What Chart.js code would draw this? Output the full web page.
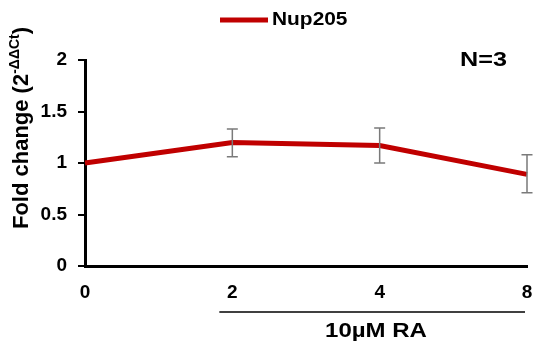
<!DOCTYPE html>
<html>
<head>
<meta charset="utf-8">
<script src="https://cdn.jsdelivr.net/npm/chart.js@4/dist/chart.umd.min.js"></script>
<style>
  html, body { margin: 0; padding: 0; background: #fff; }
  #wrap { width: 536px; height: 349px; }
</style>
</head>
<body>
<div id="wrap"><canvas id="c" width="536" height="349"></canvas></div>
<script>
// data
const timeLabels = ['0', '2', '4', '8'];
const foldChange = [1.0, 1.20, 1.17, 0.89];
const errUpper = [null, 1.33, 1.34, 1.08];
const errLower = [null, 1.06, 1.00, 0.71];
const yTicks = [0, 0.5, 1, 1.5, 2];

const FONT = '"Liberation Sans", Arial, sans-serif';
const RED = '#C00000';

// text drawn a bit wider, like the original figure
function wideText(ctx, txt, x, y, sx) {
    ctx.save();
    ctx.translate(x, y);
    ctx.scale(sx, 1);
    ctx.fillText(txt, 0, 0);
    ctx.restore();
}

// error bars + extra labels
const extras = {
    id: 'extras',
    afterDatasetsDraw(chart) {
        const { ctx, scales: { x, y } } = chart;
        ctx.save();
        ctx.strokeStyle = '#7a7a7a';
        ctx.lineWidth = 1.5;
        foldChange.forEach((v, i) => {
            if (errUpper[i] == null) return;
            const px = x.getPixelForValue(i);
            const top = y.getPixelForValue(errUpper[i]);
            const bot = y.getPixelForValue(errLower[i]);
            ctx.beginPath();
            ctx.moveTo(px, top); ctx.lineTo(px, bot);
            ctx.moveTo(px - 5.5, top); ctx.lineTo(px + 5.5, top);
            ctx.moveTo(px - 5.5, bot); ctx.lineTo(px + 5.5, bot);
            ctx.stroke();
        });
        ctx.restore();
    },
    afterDraw(chart) {
        const { ctx, scales: { x } } = chart;
        ctx.save();
        // legend
        ctx.strokeStyle = RED;
        ctx.lineWidth = 5;
        ctx.beginPath();
        ctx.moveTo(220, 20); ctx.lineTo(268, 20);
        ctx.stroke();
        ctx.fillStyle = '#000';
        ctx.textBaseline = 'middle';
        ctx.textAlign = 'left';
        ctx.font = 'bold 19px ' + FONT;
        wideText(ctx, 'Nup205', 272, 20, 1.1);

        // N=3
        ctx.font = 'bold 21px ' + FONT;
        wideText(ctx, 'N=3', 460, 60, 1.2);

        // treatment bracket
        const x1 = x.getPixelForValue(1) - 13;
        const x2 = x.getPixelForValue(3) - 2;
        ctx.strokeStyle = '#000';
        ctx.lineWidth = 1.5;
        ctx.beginPath();
        ctx.moveTo(x1, 312); ctx.lineTo(x2, 312);
        ctx.stroke();
        ctx.font = 'bold 20px ' + FONT;
        const wRA = ctx.measureText('10\u00b5M RA').width * 1.2;
        wideText(ctx, '10\u00b5M RA', 376 - wRA / 2, 331, 1.2);

        // y title with superscript
        ctx.translate(28, 128);
        ctx.rotate(-Math.PI / 2);
        const main = 'Fold change (2';
        const sup = '-\u0394\u0394Ct';
        const end = ')';
        ctx.font = 'bold 22px ' + FONT;
        const wMain = ctx.measureText(main).width;
        const wEnd = ctx.measureText(end).width;
        ctx.font = 'bold 14px ' + FONT;
        const wSup = ctx.measureText(sup).width;
        const start = -(wMain + wSup + wEnd) / 2;
        ctx.textAlign = 'left';
        ctx.textBaseline = 'alphabetic';
        ctx.font = 'bold 22px ' + FONT;
        ctx.fillText(main, start, 0);
        ctx.font = 'bold 14px ' + FONT;
        ctx.fillText(sup, start + wMain, -9);
        ctx.font = 'bold 22px ' + FONT;
        ctx.fillText(end, start + wMain + wSup, 0);
        ctx.restore();
    }
};

new Chart(document.getElementById('c'), {
    type: 'line',
    data: {
        labels: timeLabels,
        datasets: [{
            label: 'Nup205',
            data: foldChange,
            borderColor: RED,
            backgroundColor: RED,
            borderWidth: 5,
            pointRadius: 0,
            tension: 0,
            fill: false
        }]
    },
    options: {
        responsive: false,
        animation: false,
        layout: { padding: { top: 60, right: 9, left: 0, bottom: 0 } },
        plugins: {
            legend: { display: false },
            tooltip: { enabled: false }
        },
        scales: {
            x: {
                grid: { display: false },
                border: { color: '#000', width: 3 },
                ticks: {
                    color: '#000',
                    font: { family: FONT, size: 19, weight: 'bold' },
                    maxRotation: 0,
                    padding: 7
                },
                afterFit(s) { s.height = 83; s.paddingRight = 0; s.paddingLeft = 0; }
            },
            y: {
                min: 0,
                max: 2,
                afterBuildTicks(s) { s.ticks = yTicks.map(v => ({ value: v })); },
                grid: { drawOnChartArea: false, drawTicks: true, tickLength: 7, color: '#000', lineWidth: 2 },
                border: { color: '#000', width: 3 },
                ticks: {
                    color: '#000',
                    font: { family: FONT, size: 19, weight: 'bold' },
                    padding: 11,
                    callback: v => String(v)
                },
                afterFit(s) { s.width = 85; }
            }
        }
    },
    plugins: [extras]
});
</script>
</body>
</html>
